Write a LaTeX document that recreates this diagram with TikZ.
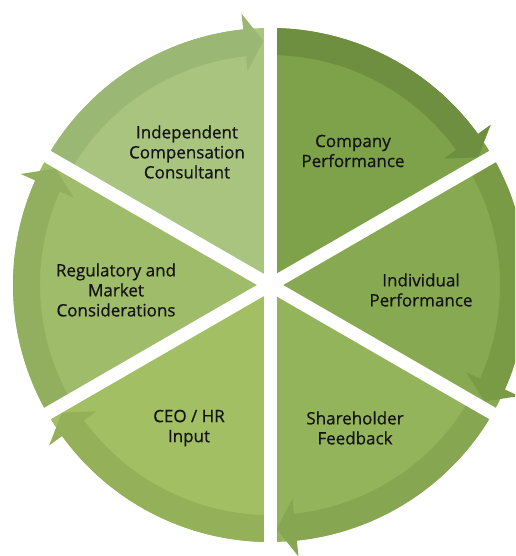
\documentclass[tikz,border=0pt]{standalone}
\usepackage{fontspec}
\setmainfont{Open Sans}
\newfontfamily\lblfont[FakeBold=0.6]{Open Sans}
\usetikzlibrary{calc}
\definecolor{fA}{HTML}{A8C47F}\definecolor{bA}{HTML}{9BB774}
\definecolor{fB}{HTML}{7DA24A}\definecolor{bB}{HTML}{6E8F3F}
\definecolor{fC}{HTML}{87A951}\definecolor{bC}{HTML}{799B46}
\definecolor{fD}{HTML}{94B45B}\definecolor{bD}{HTML}{87A651}
\definecolor{fE}{HTML}{A2BF63}\definecolor{bE}{HTML}{94B159}
\definecolor{fF}{HTML}{9EBC69}\definecolor{bF}{HTML}{91AF5F}
\definecolor{txt}{HTML}{141414}
\tikzset{
  lbl/.style={align=center, text=txt, font=\lblfont\fontsize{17}{20}\selectfont, inner sep=0pt},
  gap/.style={white, line width=13pt}
}
\begin{document}
\begin{tikzpicture}[x=1pt,y=1pt]
\useasboundingbox (-270,-271) rectangle (245,285);
\begin{scope}
\clip (-270,-271) rectangle (245,285);
\foreach \e/\fc/\bc in {90/fA/bA, 30/fB/bB, -30/fC/bC, -90/fD/bD, -150/fE/bE, 150/fF/bF}{
  \fill[\fc] (0,0) -- (\e:257) arc[start angle=\e, end angle=\e+60, radius=257] -- cycle;
  \fill[\bc] (\e+60:257) arc[start angle=\e+60, end angle=\e+6, radius=257]
     -- (\e+6:273) -- ($(\e:244)+(\e+90:6.5)$) -- (\e+6:215) -- (\e+6:230)
     arc[start angle=\e+6, end angle=\e+60, radius=230] -- cycle;
}
\foreach \a in {90,30,-30}{
  \draw[gap] (\a:300) -- (\a+180:300);
}
\end{scope}
\node[lbl] (indep) at (-83,133) {Independent\\Compensation\\Consultant};
\node[lbl] (company) at (83,134) {Company\\Performance};
\node[lbl] (indiv) at (151,-5) {Individual\\Performance};
\node[lbl] (share) at (85,-143) {Shareholder\\Feedback};
\node[lbl] (ceo) at (-81,-143) {CEO / HR\\Input};
\node[lbl] (reg) at (-154,-5) {Regulatory and\\Market\\Considerations};
\end{tikzpicture}
\end{document}
